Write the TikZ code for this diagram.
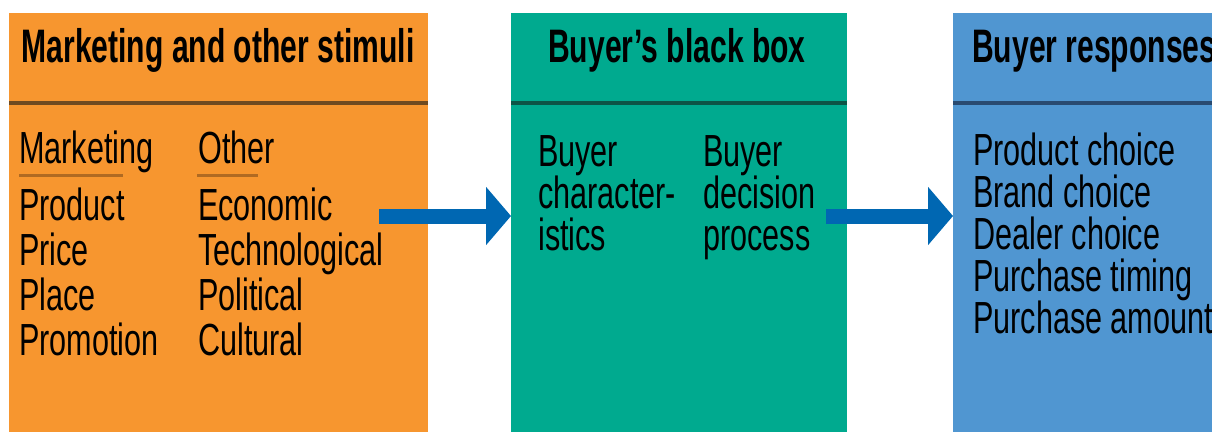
\documentclass[tikz,border=0pt]{standalone}
\usepackage{fontspec}
\setmainfont[FakeStretch=0.68]{Liberation Sans}
\newfontfamily\headfont[FakeStretch=0.64]{Liberation Sans}
\usetikzlibrary{arrows.meta}

\definecolor{stimorange}{HTML}{F7962F}
\definecolor{stimline}{HTML}{6F4A20}
\definecolor{stimunder}{HTML}{B06A22}
\definecolor{boxteal}{HTML}{00AA8F}
\definecolor{tealline}{HTML}{0D5446}
\definecolor{respblue}{HTML}{5096D1}
\definecolor{blueline}{HTML}{294A70}
\definecolor{arrowblue}{HTML}{0067B2}

\begin{document}
\begin{tikzpicture}[x=1pt, y=-1pt,
  panel/.style={rectangle, anchor=north west, inner sep=0pt, minimum height=430pt},
  head/.style={font=\headfont\bfseries\fontsize{47}{47}\selectfont, inner sep=0pt, anchor=base},
  item/.style={font=\fontsize{45}{45}\selectfont, inner sep=0pt, anchor=base west},
  divider/.style={line width=4pt},
  uline/.style={line width=3pt, draw=stimunder},
  flow/.style={line width=15pt, draw=arrowblue, -{Triangle[width=57pt,length=25pt]}}]

  \useasboundingbox (0,0) rectangle (1212,431);

  % the three panels
  \node[panel, fill=stimorange, minimum width=419pt] (stimuli) at (9,13) {};
  \node[panel, fill=boxteal, minimum width=336pt] (blackbox) at (511,13) {};
  \node[panel, fill=respblue, minimum width=300pt] (responses) at (953,13) {};

  \draw[divider, draw=stimline] ([yshift=-90pt]stimuli.north west) -- ([yshift=-90pt]stimuli.north east);
  \draw[divider, draw=tealline] ([yshift=-90pt]blackbox.north west) -- ([yshift=-90pt]blackbox.north east);
  \draw[divider, draw=blueline] ([yshift=-90pt]responses.north west) -- ([yshift=-90pt]responses.north east);

  \node[head] (stimhead) at (218,62) {Marketing and other stimuli};
  \node[head] (boxhead) at (677,62) {Buyer’s black box};
  \node[head, anchor=base west] (resphead) at (972,62) {Buyer responses};

  % stimuli
  \node[item] (mkhead) at (19,163) {Marketing};
  \node[item] (othead) at (198,163) {Other};
  \draw[uline] (19,175) -- (123,175);
  \draw[uline] (197,175) -- (258,175);

  \foreach \w [count=\i] in {Product,Price,Place,Promotion}
    \node[item] (mk\i) at (19,{175+45*\i}) {\w};
  \foreach \w [count=\i] in {Economic,Technological,Political,Cultural}
    \node[item] (ot\i) at (198,{175+45*\i}) {\w};

  % black box
  \foreach \w [count=\i] in {Buyer,character-,istics}
    \node[item] (ch\i) at (538,{124+42*\i}) {\w};
  \foreach \w [count=\i] in {Buyer,decision,process}
    \node[item] (dp\i) at (703,{124+42*\i}) {\w};

  % responses
  \foreach \w [count=\i] in {Product choice,Brand choice,Dealer choice,Purchase timing,Purchase amount}
    \node[item] (rs\i) at (973,{123+42*\i}) {\w};

  \coordinate (out1) at (379,216);
  \coordinate (out2) at (826,216);
  \draw[flow] (out1) -- (out1 -| blackbox.west);
  \draw[flow] (out2) -- (out2 -| responses.west);
\end{tikzpicture}
\end{document}
